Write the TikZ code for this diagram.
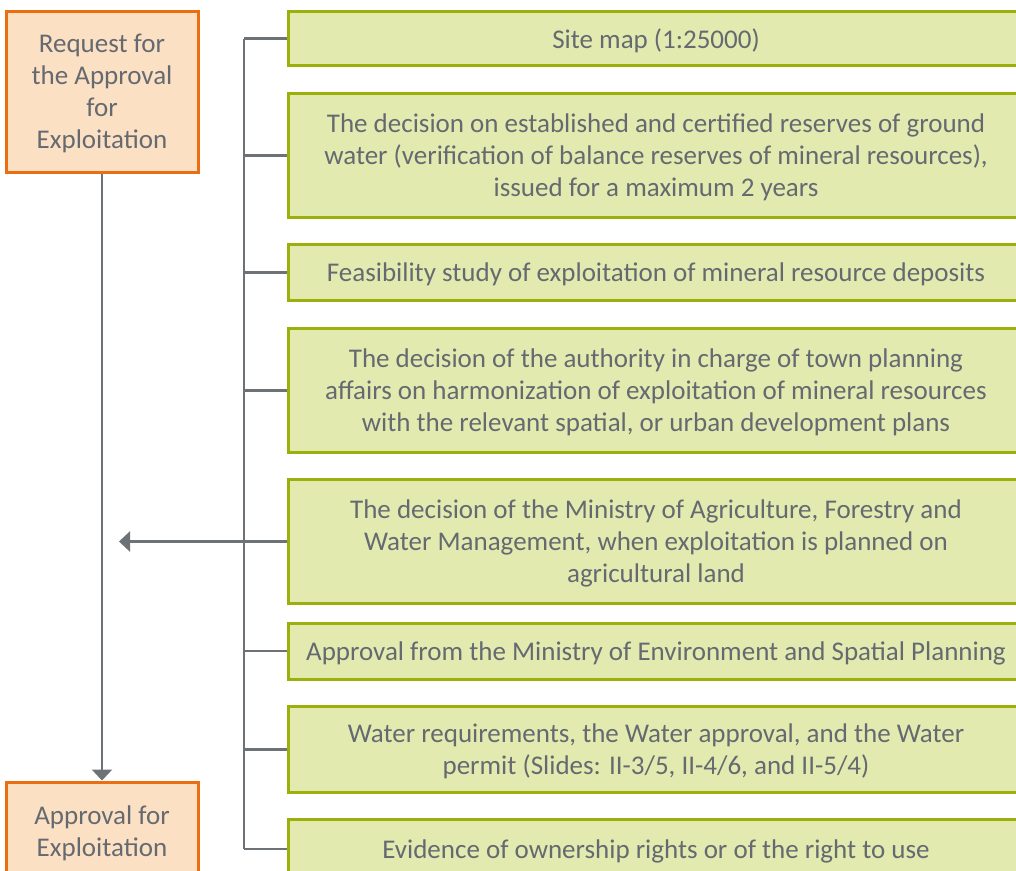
\documentclass[tikz,border=0pt]{standalone}
\usepackage{fontspec}
\setmainfont{Carlito}
\usetikzlibrary{calc,arrows.meta,positioning}
\definecolor{boxorange}{HTML}{EC6E12}
\definecolor{fillorange}{HTML}{FCE0C4}
\definecolor{boxgreen}{HTML}{9BB00A}
\definecolor{fillgreen}{HTML}{E3EAB0}
\definecolor{textgray}{HTML}{646A70}
\definecolor{linegray}{HTML}{6D7277}

\begin{document}
\begin{tikzpicture}[x=1pt,y=-1pt,
  stage/.style={draw=boxorange,fill=fillorange,line width=3pt,text=textgray,
    minimum width=192pt,align=center,text depth=0pt,font=\fontsize{27}{32}\selectfont},
  doc/.style={draw=boxgreen,fill=fillgreen,line width=3pt,text=textgray,
    minimum width=736pt,align=center,text depth=0pt,font=\fontsize{27}{32}\selectfont},
  link/.style={draw=linegray,line width=2.5pt},
  tip/.style={-{Triangle[length=11pt,width=20pt]}}]
\useasboundingbox[fill=white] (0,0) rectangle (1016,870);
\clip (0,0) rectangle (1016,870);
% stages
\node[stage,minimum height=161pt] (req) at (102,91.5) {Request for\\the Approval\\for\\Exploitation};
\node[stage,minimum height=98pt] (appr) at (102,831) {Approval for\\Exploitation};
% documents
\node[doc,minimum height=54pt] (s1) at (656,38.5) {Site map (1:25000)};
\node[doc,minimum height=124pt] (s2) at (656,155.5) {The decision on established and certified reserves of ground\\water (verification of balance reserves of mineral resources),\\issued for a maximum 2 years};
\node[doc,minimum height=56pt] (s3) at (656,272.5) {Feasibility study of exploitation of mineral resource deposits};
\node[doc,minimum height=124pt] (s4) at (656,390.5) {The decision of the authority in charge of town planning\\affairs on harmonization of exploitation of mineral resources\\with the relevant spatial, or urban development plans};
\node[doc,minimum height=124pt] (s5) at (656,541.5) {The decision of the Ministry of Agriculture, Forestry and\\Water Management, when exploitation is planned on\\agricultural land};
\node[doc,minimum height=56pt] (s6) at (656,651) {Approval from the Ministry of Environment and Spatial Planning};
\node[doc,minimum height=86pt] (s7) at (656,749.5) {Water requirements, the Water approval, and the Water\\permit (Slides: II-3/5, II-4/6, and II-5/4)};
\node[doc,minimum height=60pt] (s8) at (656,849) {Evidence of ownership rights or of the right to use};
% bracket
\coordinate (bus) at (244,0);
\coordinate (join) at (119,0);
\draw[link] (s1.west -| bus) -- (s8.west -| bus);
\foreach \i in {1,...,8}
  \draw[link] (s\i.west -| bus) -- (s\i.west);
\draw[link,tip] (s5.west -| bus) -- (s5.west -| join);
\draw[link,tip] (req.south) -- (appr.north);
\end{tikzpicture}
\end{document}
